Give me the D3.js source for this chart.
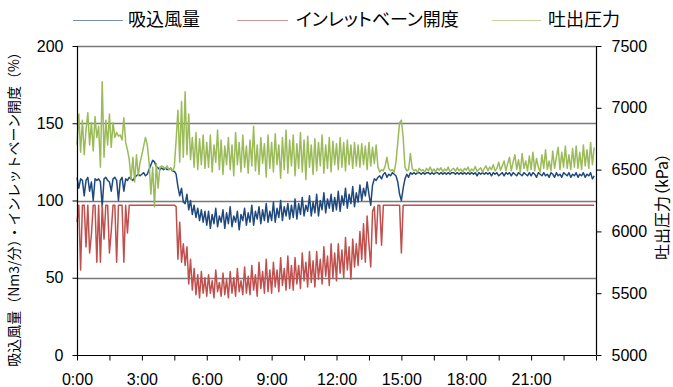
<!DOCTYPE html>
<html><head><meta charset="utf-8">
<script src="https://cdn.jsdelivr.net/npm/d3@7/dist/d3.min.js"></script>
<style>
body{margin:0;background:#fff}
text{font-family:"Liberation Sans","Noto Sans CJK JP",sans-serif;}
.cjk{font-family:"Noto Sans CJK JP",sans-serif;font-feature-settings:"palt";}
.cjkw{font-family:"Noto Sans CJK JP",sans-serif;}
</style>
</head><body>
<svg id="c" width="673" height="387"></svg>
<script>
const seriesNames = ["吸込風量", "インレットベーン開度", "吐出圧力"];
const xTickLabels = ["0:00","3:00","6:00","9:00","12:00","15:00","18:00","21:00"];
const leftTicks = [0, 50, 100, 150, 200];
const rightTicks = [5000, 5500, 6000, 6500, 7000, 7500];
const stepMinutes = 5;

// 吸込風量 (%), 5-minute samples, 12 per hour
const intake = [
115,108,114,113,103,113,115,106,112,100,114,113,
114,112,96,114,115,113,112,106,114,115,113,100,
113,115,106,114,113,115,114,113,115,116,117,116,
117,118,116,117,120,123,126,125,122,121,120,121,
120,121,120,120,121,119,119,117,109,103,108,99,
98,104,94,100,91,97,89,95,87,94,86,93,
84,93,82,91,85,95,83,90,86,94,82,92,
85,96,83,90,86,93,81,91,87,95,84,92,
86,97,84,93,88,96,85,94,87,98,86,93,
87,99,86,95,89,100,87,96,90,98,88,97,
89,101,88,98,91,102,90,97,93,103,90,99,
92,104,90,100,94,105,92,101,95,104,93,102,
94,106,93,103,97,108,95,104,98,109,96,105,
99,110,100,108,103,112,104,97,110,114,113,115,
116,114,117,118,115,117,116,118,117,116,112,104,
100,108,114,117,115,118,117,118,117,118,118,117,
118,117,118,118,117,118,117,118,118,117,118,117,
118,117,118,117,118,118,117,118,117,118,117,118,
117,118,117,118,117,118,116,118,117,118,117,118,
117,118,116,118,117,118,116,117,118,116,118,117,
118,116,118,117,116,118,117,116,118,117,116,118,
116,118,117,115,118,117,116,118,116,117,115,118,
117,115,118,116,117,115,118,117,116,118,115,117,
116,118,115,117,116,118,115,117,116,118,114,116
];

// インレットベーン開度 (%)
const vane = [
86,97,55,97,97,70,97,66,78,97,97,60,
97,60,97,75,97,97,66,80,97,97,60,97,
97,97,60,97,79,97,97,97,97,97,97,97,
97,97,97,97,97,97,97,97,97,97,97,97,
97,97,97,97,97,97,97,96,62,86,60,72,
58,70,46,62,42,56,39,52,37,54,40,50,
38,52,40,48,37,55,41,47,38,53,39,49,
37,54,40,50,38,56,41,48,39,57,40,51,
39,58,42,52,38,60,43,54,40,62,41,55,
40,60,44,55,41,63,45,56,42,64,43,58,
42,63,46,58,43,66,48,60,44,67,47,61,
44,67,49,62,46,70,51,64,45,72,50,66,
48,72,53,68,50,76,55,70,49,75,57,72,
58,80,62,85,60,90,72,57,93,96,72,97,
97,71,97,97,97,97,97,97,97,97,97,97,
66,97,97,97,97,97,97,97,97,97,97,97,
97,97,97,97,97,97,97,97,97,97,97,97,
97,97,97,97,97,97,97,97,97,97,97,97,
97,97,97,97,97,97,97,97,97,97,97,97,
97,97,97,97,97,97,97,97,97,97,97,97,
97,97,97,97,97,97,97,97,97,97,97,97,
97,97,97,97,97,97,97,97,97,97,97,97,
97,97,97,97,97,97,97,97,97,97,97,97,
97,97,97,97,97,97,97,97,97,97,97,97
];

// 吐出圧力 (kPa)
const pressure = [
6700,6950,6640,6900,6620,6820,6960,6700,6880,6650,6930,6760,
6850,6520,7210,6600,6900,6700,6950,6680,6880,6760,6800,6770,
6780,6740,6920,6720,6660,6580,6420,6600,6400,6620,6450,6560,
6620,6690,6760,6700,6560,6300,6520,6200,6550,6350,6520,6530,
6520,6510,6530,6500,6510,6490,6520,6740,6980,6560,7050,6600,
7130,6620,6950,6580,6760,6520,6800,6500,6750,6540,6780,6510,
6720,6520,6780,6480,6700,6560,6820,6500,6740,6460,6690,6540,
6760,6500,6700,6450,6800,6540,6720,6480,6780,6520,6690,6470,
6740,6530,6850,6490,6700,6460,6760,6550,6710,6440,6780,6510,
6720,6480,6790,6540,6700,6430,6760,6500,6820,6470,6740,6530,
6780,6450,6710,6510,6800,6480,6740,6420,6770,6520,6700,6460,
6750,6490,6720,6530,6780,6470,6700,6510,6760,6480,6730,6540,
6710,6500,6760,6520,6720,6490,6740,6540,6700,6510,6720,6530,
6700,6520,6710,6540,6690,6500,6720,6530,6680,6550,6700,6520,
6480,6500,6490,6530,6600,6510,6490,6500,6480,6560,6720,6880,
6900,6760,6520,6490,6500,6630,6510,6490,6500,6480,6510,6490,
6500,6480,6510,6490,6520,6485,6505,6480,6510,6495,6515,6480,
6505,6490,6520,6480,6500,6510,6485,6515,6490,6505,6480,6510,
6495,6520,6480,6505,6490,6525,6485,6500,6515,6480,6510,6530,
6490,6520,6500,6540,6490,6510,6560,6495,6530,6570,6490,6550,
6600,6490,6560,6620,6500,6580,6480,6630,6510,6570,6490,6610,
6500,6640,6490,6590,6520,6480,6620,6510,6660,6500,6570,6490,
6650,6510,6600,6680,6500,6640,6520,6690,6510,6620,6500,6670,
6520,6690,6510,6640,6500,6700,6530,6660,6510,6720,6540,6680
];

const colors = ["#1F497D", "#C0504D", "#9BBB59"];

const svg = d3.select("#c");
const L = 77, R = 596, T = 46, B = 355;

const x = d3.scaleLinear().domain([0, 1440]).range([L, R]);
const yL = d3.scaleLinear().domain([0, 200]).range([B, T]);
const yR = d3.scaleLinear().domain([5000, 7500]).range([B, T]);

// gridlines
svg.append("g").selectAll("line").data(leftTicks.filter(d => d > 0)).join("line")
  .attr("x1", L).attr("x2", R)
  .attr("y1", d => Math.round(yL(d)) + 0.5).attr("y2", d => Math.round(yL(d)) + 0.5)
  .attr("stroke", "#7a7a7a").attr("stroke-width", 1.3);

// series
function drawSeries(data, yScale, color) {
  const line = d3.line().x((d, i) => x(i * stepMinutes)).y(d => yScale(d));
  svg.append("path").datum(data).attr("d", line)
    .attr("fill", "none").attr("stroke", color).attr("stroke-width", 1.5)
    .attr("stroke-linejoin", "round");
}
drawSeries(intake, yL, colors[0]);
drawSeries(vane, yL, colors[1]);
drawSeries(pressure, yR, colors[2]);

// axes
const leftAxis = d3.axisLeft(yL).tickValues(leftTicks).tickSize(5).tickPadding(9).tickFormat(d3.format("d"));
const gl = svg.append("g").attr("transform", `translate(${L + 0.5},0)`).call(leftAxis);
const rightAxis = d3.axisRight(yR).tickValues(rightTicks).tickSize(5).tickPadding(10).tickFormat(d3.format("d"));
const gr = svg.append("g").attr("transform", `translate(${R + 0.5},0)`).call(rightAxis);
const xTickVals = d3.range(0, 1441, 90);
const bottomAxis = d3.axisBottom(x).tickValues(xTickVals).tickSize(5).tickPadding(13)
  .tickFormat(d => (d % 180 === 0 && d < 1440) ? xTickLabels[d / 180] : "");
const gb = svg.append("g").attr("transform", `translate(0,${B + 0.5})`).call(bottomAxis);

[gl, gr, gb].forEach(g => {
  g.select(".domain").attr("stroke", "#000").attr("stroke-width", 1.2);
  g.selectAll(".tick line").attr("stroke", "#000");
  g.selectAll(".tick text").attr("font-size", 16).attr("fill", "#000")
    .attr("font-family", "Liberation Sans, sans-serif");
});
gl.select(".domain").attr("d", `M0,${T}V${B}`);
gr.select(".domain").attr("d", `M0,${T}V${B}`);
gb.select(".domain").attr("d", `M${L},0H${R}`);

// axis titles
svg.append("text").attr("class", "cjkw")
  .attr("transform", `translate(19,206) rotate(-90)`)
  .attr("text-anchor", "middle").attr("font-size", 14).attr("fill", "#000")
  .text("吸込風量（Nm3/分）・インレットベーン開度（%）");
svg.append("text").attr("class", "cjk")
  .attr("transform", `translate(668,${(T + B) / 2 + 6}) rotate(-90)`)
  .attr("text-anchor", "middle").attr("font-size", 16).attr("fill", "#000")
  .text("吐出圧力（kPa）");

// legend
const legend = [
  {x1: 73, x2: 123, tx: 128},
  {x1: 237, x2: 288, tx: 296},
  {x1: 492, x2: 541, tx: 548}
];
const lg = svg.append("g");
legend.forEach((p, i) => {
  lg.append("line").attr("x1", p.x1).attr("x2", p.x2).attr("y1", 20.5).attr("y2", 20.5)
    .attr("stroke", colors[i]).attr("stroke-width", 1).attr("opacity", 0.6);
  lg.append("text").attr("class", "cjk").attr("x", p.tx).attr("y", 20)
    .attr("dy", "0.36em").attr("font-size", 18).attr("fill", "#000").text(seriesNames[i]);
});
</script>
</body></html>
